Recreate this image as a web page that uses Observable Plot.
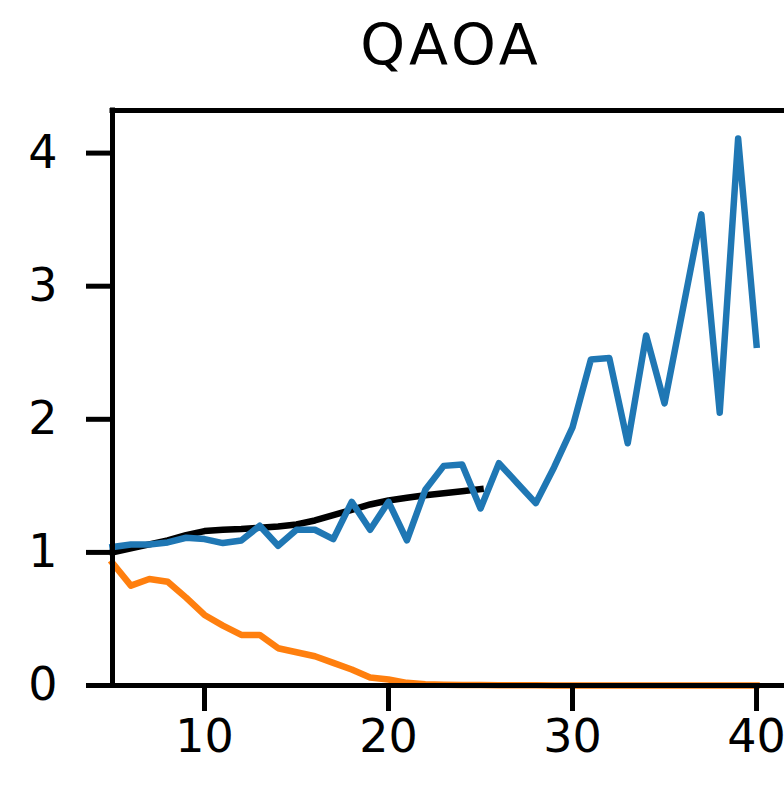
<!DOCTYPE html>
<html>
<head>
<meta charset="utf-8">
<script src="https://cdn.jsdelivr.net/npm/d3@7"></script>
<script src="https://cdn.jsdelivr.net/npm/@observablehq/plot@0.6"></script>
<style>
  html, body { margin: 0; padding: 0; background: #fff; }
  #wrap { position: relative; width: 784px; height: 787px; }
  #title { position: absolute; left: 0; top: 0; width: 784px; height: 90px; box-sizing: border-box;
           padding-left: 118px; text-align: center; font-family: "DejaVu Sans", sans-serif;
           font-size: 57px; line-height: 57px; padding-top: 17px; letter-spacing: 4px; color: #000; }
  #layer { position: absolute; left: 0; top: 0; margin: 0; font-size: 10px; background: #fff; }
  #chart svg { display: block; font-family: "DejaVu Sans", sans-serif; color: #000; background: #fff; }
</style>
</head>
<body>
<div id="wrap">
  <div id="chart"></div>
  <div id="title"></div>
  <pre id="layer">&nbsp;</pre>
</div>
<script>
const title = "QAOA";
const nBlue = d3.range(5, 41);
const blueValues = [1.04, 1.06, 1.06, 1.075, 1.11, 1.10, 1.07, 1.09, 1.20, 1.05,
  1.17, 1.17, 1.10, 1.38, 1.17, 1.38, 1.09, 1.47, 1.65, 1.66,
  1.33, 1.67, 1.52, 1.37, 1.64, 1.94, 2.45, 2.46, 1.82, 2.63,
  2.12, 2.83, 3.54, 2.05, 4.11, 2.56];
const nBlack = d3.range(5, 26);
const blackValues = [1.00, 1.03, 1.06, 1.09, 1.13, 1.16, 1.17, 1.175, 1.185, 1.195,
  1.21, 1.24, 1.28, 1.32, 1.36, 1.39, 1.41, 1.43, 1.445, 1.46, 1.475];
const nOrange = d3.range(5, 41);
const orangeValues = [0.92, 0.75, 0.80, 0.78, 0.66, 0.53, 0.45, 0.38, 0.38, 0.28,
  0.25, 0.22, 0.17, 0.12, 0.06, 0.045, 0.02, 0.01, 0.006, 0.004,
  0.003, 0.002, 0.001, 0.001, 0, 0, 0, 0, 0, 0,
  0, 0, 0, 0, 0, 0];
const xTicks = [10, 20, 30, 40];
const yTicks = [0, 1, 2, 3, 4];
const xMin = 5, xMax = 41.52;
const yMin = 0, yMax = 4.32;

// pixel geometry of the axes box: ticks are drawn inside an enlarged frame
const boxLeft = 112, boxTop = 110, boxBottom = 685, width = 784, height = 787, tickLen = 26;
const pxPerX = (width - boxLeft) / (xMax - xMin);
const pxPerY = (boxBottom - boxTop) / (yMax - yMin);
const xLo = xMin - tickLen / pxPerX;
const yLo = yMin - tickLen / pxPerY;

const toRows = (xs, ys) => xs.map((x, i) => ({x, y: ys[i]}));
const blue = toRows(nBlue, blueValues);
const black = toRows(nBlack, blackValues);
const orange = toRows(nOrange, orangeValues);

const lineStyle = {x: "x", y: "y", strokeWidth: 6.5, strokeLinejoin: "round", strokeLinecap: "square"};
const spine = {stroke: "#000", strokeWidth: 5, strokeLinecap: "square"};

const plot = Plot.plot({
  width,
  height,
  marginLeft: boxLeft - tickLen,
  marginRight: 0,
  marginTop: boxTop,
  marginBottom: height - boxBottom - tickLen,
  x: {domain: [xLo, xMax], axis: null},
  y: {domain: [yLo, yMax], axis: null},
  marks: [
    Plot.line(orange, {...lineStyle, stroke: "#ff7f0e"}),
    Plot.line(black, {...lineStyle, stroke: "#000000"}),
    Plot.line(blue, {...lineStyle, stroke: "#1f77b4"}),
    // spines
    Plot.ruleX([xMin], {...spine, y1: yMin, y2: yMax}),
    Plot.ruleY([yMin, yMax], {...spine, x1: xMin, x2: xMax}),
    // tick marks
    Plot.ruleY(yTicks, {y: d => d, x1: xLo, x2: xMin, stroke: "#000", strokeWidth: 5}),
    Plot.ruleX(xTicks, {x: d => d, y1: yLo, y2: yMin, stroke: "#000", strokeWidth: 5}),
    // tick labels
    Plot.axisY({ticks: yTicks, tickSize: 0, tickPadding: 29, fill: "#000", fontSize: 46, label: null, tickFormat: d3.format("d")}),
    Plot.axisX({ticks: xTicks, tickSize: 0, tickPadding: 8, fill: "#000", fontSize: 46, label: null, tickFormat: d3.format("d")})
  ]
});
document.getElementById("chart").appendChild(plot);
document.getElementById("title").textContent = title;
</script>
</body>
</html>
